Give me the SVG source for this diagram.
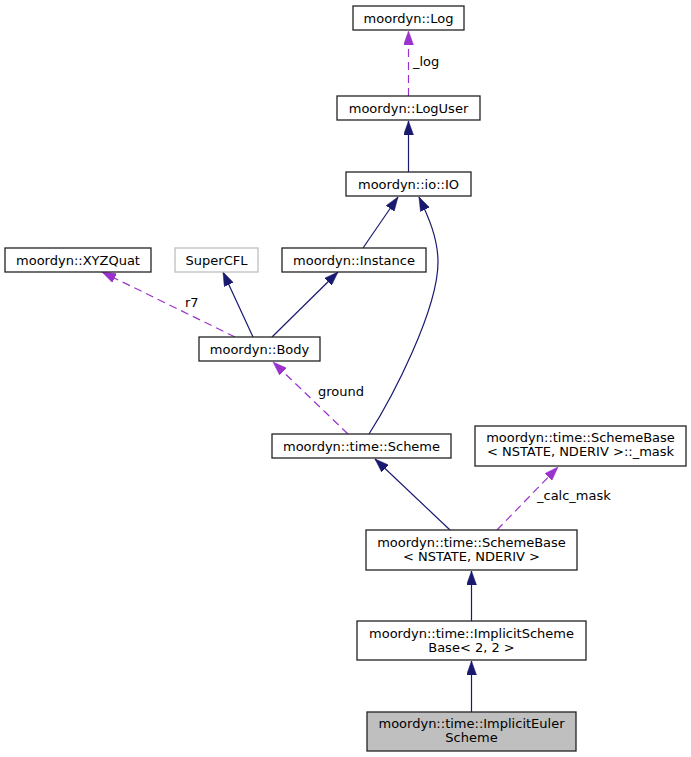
<svg xmlns="http://www.w3.org/2000/svg" width="691" height="757" viewBox="0 0 691 757">
<style>
  .node rect { fill: #ffffff; stroke: #222222; stroke-width: 1.3; }
  .node text { font-family: "DejaVu Sans", sans-serif; font-size: 13px; fill: #000000; text-anchor: middle; }
  .edge { fill: none; stroke-width: 1.2; }
  .inh { stroke: #191970; marker-end: url(#arrN); }
  .use { stroke: #9a32cd; stroke-dasharray: 8,5; marker-end: url(#arrP); }
  .lbl { font-family: "DejaVu Sans", sans-serif; font-size: 13px; fill: #000000; }
</style>
<defs>
  <marker id="arrN" viewBox="0 0 14 10" refX="14" refY="5" markerWidth="14" markerHeight="10" markerUnits="userSpaceOnUse" orient="auto">
    <path d="M0,0 L14,5 L0,10 Z" fill="#191970" stroke="#191970" stroke-width="0.5"/>
  </marker>
  <marker id="arrP" viewBox="0 0 14 10" refX="14" refY="5" markerWidth="14" markerHeight="10" markerUnits="userSpaceOnUse" orient="auto">
    <path d="M0,0 L14,5 L0,10 Z" fill="#9a32cd" stroke="#9a32cd" stroke-width="0.5"/>
  </marker>
</defs>
<rect x="0" y="0" width="691" height="757" fill="#ffffff"/>

<g id="edges">
  <path class="edge use" d="M408.5,96 L408.5,31"/>
  <text class="lbl" x="413" y="66">_log</text>
  <path class="edge inh" d="M408.5,172 L408.5,121"/>
  <path class="edge inh" d="M363,248 L398,197"/>
  <path class="edge inh" d="M369,434 C392,398 438,310 438,262 C438,238 428,216 419,197"/>
  <path class="edge inh" d="M253,337 L223,272"/>
  <path class="edge inh" d="M272,337 L338,272"/>
  <path class="edge use" d="M235,337 L102,272"/>
  <text class="lbl" x="185" y="307">r7</text>
  <path class="edge use" d="M348,434 L273,362"/>
  <text class="lbl" x="318" y="396">ground</text>
  <path class="edge inh" d="M450,530 L375,459"/>
  <path class="edge use" d="M497,530 L558,467"/>
  <text class="lbl" x="537" y="500">_calc_mask</text>
  <path class="edge inh" d="M471.5,621 L471.5,571"/>
  <path class="edge inh" d="M471.5,712 L471.5,661"/>
</g>

<g id="node-log" class="node">
  <rect x="353" y="6" width="111" height="24"/>
  <text x="408.5" y="22.5">moordyn::Log</text>
</g>
<g id="node-loguser" class="node">
  <rect x="337" y="96" width="143" height="24"/>
  <text x="408.5" y="112.5">moordyn::LogUser</text>
</g>
<g id="node-io" class="node">
  <rect x="346" y="172" width="125" height="24"/>
  <text x="408.5" y="188.5">moordyn::io::IO</text>
</g>
<g id="node-xyzquat" class="node">
  <rect x="5" y="248" width="146" height="24"/>
  <text x="78" y="264.5">moordyn::XYZQuat</text>
</g>
<g id="node-supercfl" class="node">
  <rect x="175" y="248" width="83" height="24" style="stroke:#bfbfbf"/>
  <text x="216.5" y="264.5">SuperCFL</text>
</g>
<g id="node-instance" class="node">
  <rect x="282" y="248" width="144" height="24"/>
  <text x="354" y="264.5">moordyn::Instance</text>
</g>
<g id="node-body" class="node">
  <rect x="199" y="337" width="121" height="24"/>
  <text x="259.5" y="353.5">moordyn::Body</text>
</g>
<g id="node-scheme" class="node">
  <rect x="272" y="434" width="179" height="24"/>
  <text x="361.5" y="450.5">moordyn::time::Scheme</text>
</g>
<g id="node-mask" class="node">
  <rect x="475" y="426" width="211" height="40"/>
  <text x="580.5" y="442">moordyn::time::SchemeBase</text>
  <text x="580.5" y="456">&lt; NSTATE, NDERIV &gt;::_mask</text>
</g>
<g id="node-schemebase" class="node">
  <rect x="366" y="530" width="211" height="40"/>
  <text x="471.5" y="546.5">moordyn::time::SchemeBase</text>
  <text x="471.5" y="561">&lt; NSTATE, NDERIV &gt;</text>
</g>
<g id="node-implicitschemebase" class="node">
  <rect x="357" y="621" width="229" height="39"/>
  <text x="471.5" y="637.5">moordyn::time::ImplicitScheme</text>
  <text x="471.5" y="651.5">Base&lt; 2, 2 &gt;</text>
</g>
<g id="node-implicitEuler" class="node">
  <rect x="367" y="712" width="209" height="39" style="fill:#bfbfbf"/>
  <text x="471.5" y="728">moordyn::time::ImplicitEuler</text>
  <text x="471.5" y="742">Scheme</text>
</g>
</svg>
